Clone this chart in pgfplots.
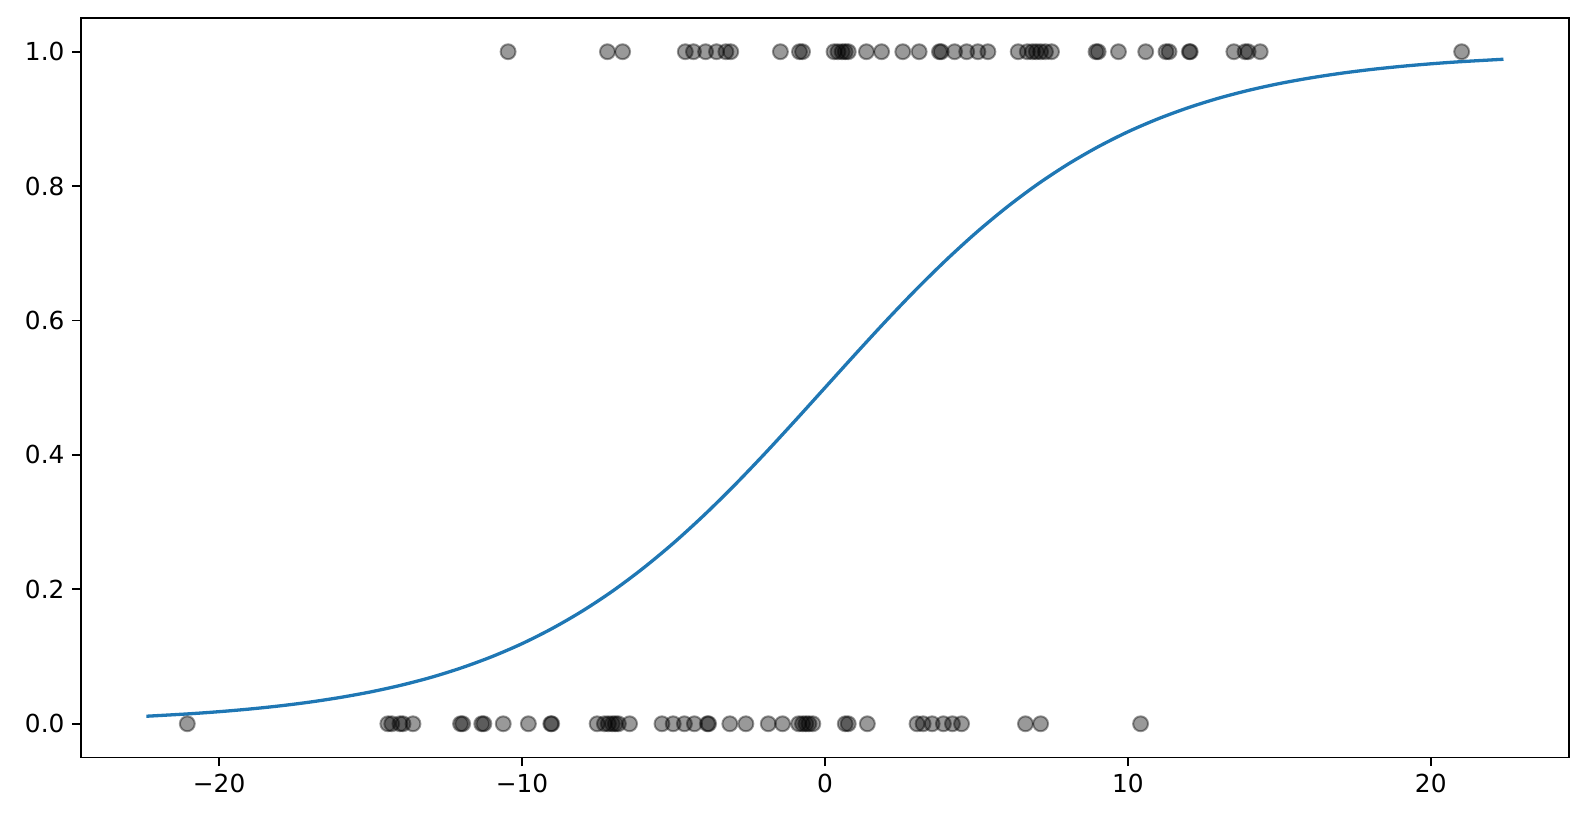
\documentclass[border=0pt]{standalone}
\usepackage{fontspec}
\setmainfont{DejaVu Sans}
\usepackage{pgfplots}
\pgfplotsset{compat=1.18}
\definecolor{mplblue}{HTML}{1F77B4}

\begin{document}
\begin{tikzpicture}
\begin{axis}[
  width=23.81cm, height=11.83cm, scale only axis,
  xmin=-24.56, xmax=24.56, ymin=-0.05, ymax=1.05,
  xtick={-20,-10,0,10,20},
  xticklabels={−20,−10,0,10,20},
  ytick={0,0.2,0.4,0.6,0.8,1.0},
  yticklabels={0.0,0.2,0.4,0.6,0.8,1.0},
  tick align=outside, tick pos=left,
  major tick length=4pt,
  every tick/.style={black, line width=0.8pt},
  axis line style={line width=0.8pt},
  tick label style={font=\fontsize{11.3}{13}\selectfont},
  clip=false,
]
\addplot[only marks, mark=*, mark size=3.4pt,
  mark options={fill=black, draw=black, fill opacity=0.4, draw opacity=0.4, line width=0.9pt}]
coordinates {
(-10.46,1)(-7.18,1)(-6.68,1)(-4.61,1)(-4.34,1)(-3.94,1)(-3.58,1)(-3.27,1)(-3.11,1)
(-1.47,1)(-0.84,1)(-0.74,1)(0.30,1)(0.43,1)(0.57,1)(0.67,1)(0.77,1)(1.37,1)(1.87,1)
(2.57,1)(3.11,1)(3.78,1)(3.84,1)(4.28,1)(4.68,1)(5.05,1)(5.38,1)(6.38,1)(6.68,1)
(6.85,1)(6.98,1)(7.12,1)(7.28,1)(7.48,1)(8.95,1)(9.02,1)(9.69,1)(10.59,1)(11.26,1)
(11.36,1)(12.03,1)(12.06,1)(13.50,1)(13.87,1)(13.97,1)(14.37,1)(21.02,1)
};
\addplot[only marks, mark=*, mark size=3.4pt,
  mark options={fill=black, draw=black, fill opacity=0.4, draw opacity=0.4, line width=0.9pt}]
coordinates {
(-21.05,0)(-14.43,0)(-14.30,0)(-14.03,0)(-13.93,0)(-13.60,0)(-12.03,0)(-11.96,0)
(-11.33,0)(-11.26,0)(-10.62,0)(-9.79,0)(-9.05,0)(-9.02,0)(-7.52,0)(-7.28,0)(-7.15,0)
(-7.02,0)(-6.92,0)(-6.82,0)(-6.45,0)(-5.38,0)(-5.01,0)(-4.64,0)(-4.31,0)(-3.88,0)
(-3.84,0)(-3.14,0)(-2.61,0)(-1.87,0)(-1.40,0)(-0.87,0)(-0.74,0)(-0.63,0)(-0.53,0)
(-0.40,0)(0.67,0)(0.77,0)(1.40,0)(3.04,0)(3.24,0)(3.54,0)(3.91,0)(4.21,0)(4.51,0)
(6.62,0)(7.12,0)(10.42,0)
};
\addplot[mplblue, line width=1.5pt, smooth] coordinates {
(-22.4,0.0112)(-21,0.0148)(-20,0.0180)(-19,0.0219)(-18,0.0266)(-17,0.0323)(-16,0.0392)
(-15,0.0474)(-14,0.0573)(-13,0.0691)(-12,0.0832)(-11,0.0998)(-10,0.1192)(-9,0.1419)
(-8,0.1680)(-7,0.1978)(-6,0.2315)(-5,0.2689)(-4,0.3100)(-3,0.3543)(-2,0.4013)
(-1,0.4502)(0,0.5)(1,0.5498)(2,0.5987)(3,0.6457)(4,0.6900)(5,0.7311)(6,0.7685)
(7,0.8022)(8,0.8320)(9,0.8581)(10,0.8808)(11,0.9002)(12,0.9168)(13,0.9309)(14,0.9427)
(15,0.9526)(16,0.9608)(17,0.9677)(18,0.9734)(19,0.9781)(20,0.9820)(21,0.9852)(22.4,0.9888)
};
\end{axis}
\pgfresetboundingbox
\path (-1.296cm,-1.04cm) rectangle (24.10cm,12.12cm);
\end{tikzpicture}
\end{document}
